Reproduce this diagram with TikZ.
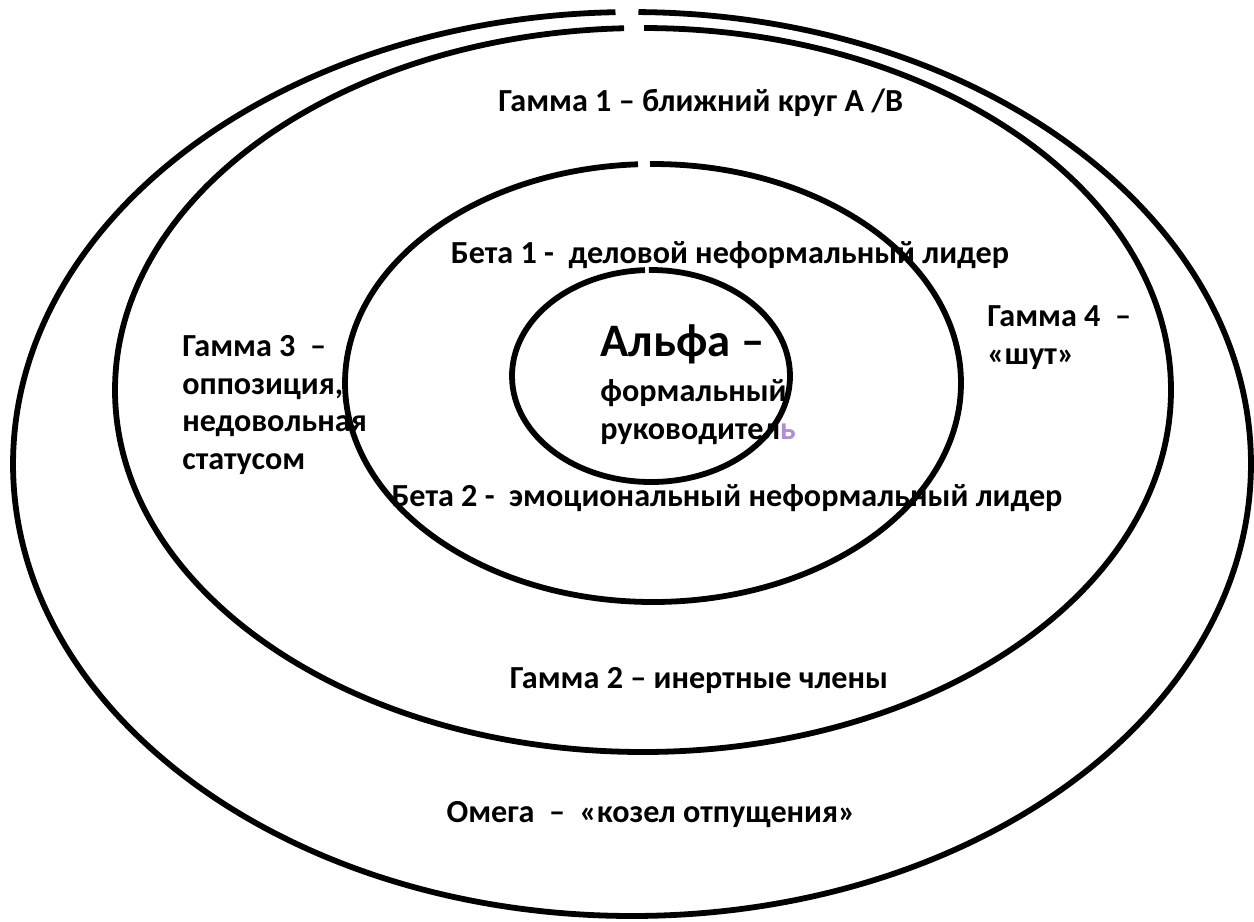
\documentclass[tikz,border=0pt]{standalone}
\usepackage{fontspec}
\setmainfont{Carlito}
\usetikzlibrary{positioning}
\definecolor{lilac}{RGB}{178,140,210}

\begin{document}
\begin{tikzpicture}[
  x=0.02cm, y=-0.02cm,
  ring/.style={line width=3.3pt},
  lbl/.style={font=\fontsize{18.3}{21.5}\selectfont\bfseries, inner sep=0pt},
  lblleft/.style={lbl, align=left, anchor=north west},
  big/.style={font=\fontsize{26.5}{31}\selectfont\bfseries, inner sep=0pt, anchor=north west}
]
\useasboundingbox (0,0) rectangle (1254,921);

% Labels
\node[lbl, anchor=west] (gamma1) at (498,103) {Гамма 1 – ближний круг А /В};
\node[lbl] (beta1) at (730,255) {Бета 1 -~ деловой неформальный лидер};
\node[big] (alpha) at (600,324) {Альфа –};
\node[lblleft] (alphasub) at (600,379) {формальный\\руководител{\color{lilac}ь}};
\node[lblleft] (gamma3) at (182,335) {Гамма 3~ –\\оппозиция,\\недовольная\\статусом};
\node[lblleft] (gamma4) at (987,305) {Гамма 4~ –\\«шут»};
\node[lbl] (beta2) at (727,498) {Бета 2 -~ эмоциональный неформальный лидер};
\node[lbl] (gamma2) at (699,680) {Гамма 2 – инертные члены};
\node[lbl] (omega) at (651,815) {Омега~ –~ «козел отпущения»};

% Rings, outer to inner, each broken near the top
\draw[ring] (632,464) ++(-89.40:619 and 452) arc[start angle=-89.40, end angle=268.47, x radius=619, y radius=452];
\draw[ring] (643,390) ++(-89.89:528 and 362) arc[start angle=-89.89, end angle=267.94, x radius=528, y radius=362];
\draw[ring] (653,383) ++(-90.56:308 and 219) arc[start angle=-90.56, end angle=267.21, x radius=308, y radius=219];
\draw[ring] (651,376) ++(-90.83:139 and 106) arc[start angle=-90.83, end angle=267.53, x radius=139, y radius=106];

\end{tikzpicture}
\end{document}
